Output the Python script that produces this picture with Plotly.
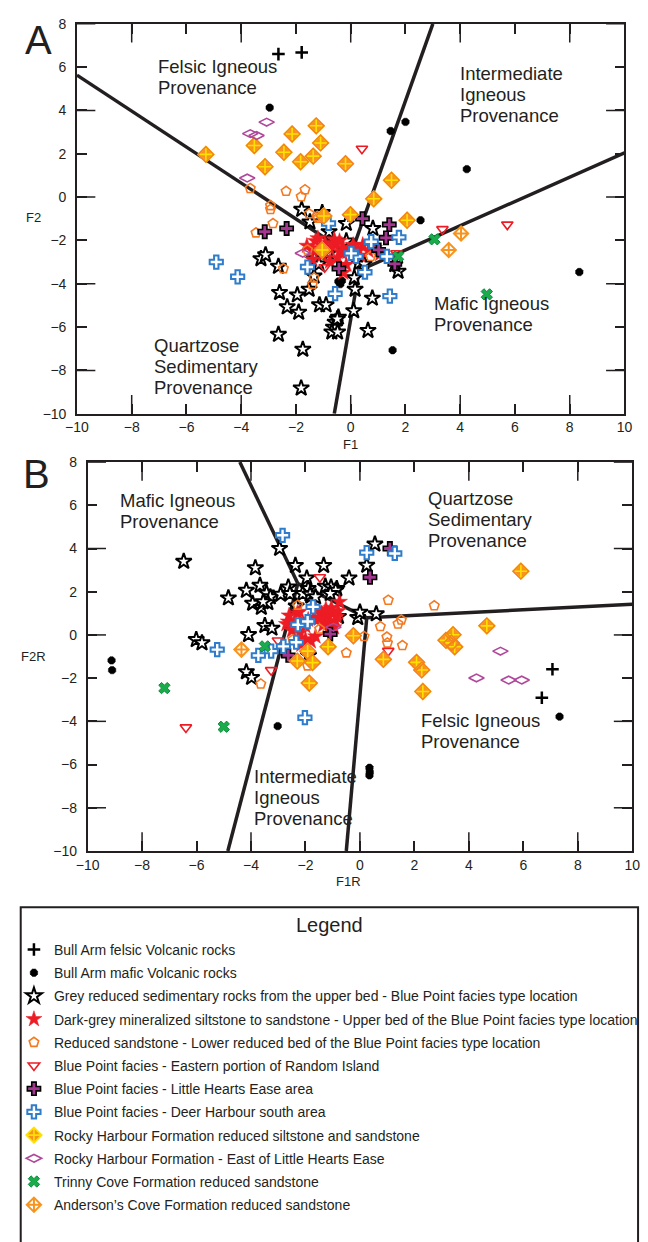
import plotly.graph_objects as go

# ---------------- discriminant-function scores ----------------
# panel A: (F1, F2); panel B: (F1R, F2R)
bull_felsic_A = [(-2.64, 6.60), (-1.79, 6.68)]
bull_felsic_B = [(7.07, -1.59), (6.68, -2.91)]

bull_mafic_A = [(-2.96, 4.13), (1.46, 3.05), (2.00, 3.47), (4.24, 1.29), (2.55, -1.07),
                (8.35, -3.46), (1.53, -7.07), (-0.45, -3.90), (-0.32, -3.86), (-0.38, -4.02)]
bull_mafic_B = [(-9.12, -1.18), (-9.10, -1.63), (-3.02, -4.22), (0.35, -6.15), (0.36, -6.35),
                (0.35, -6.50), (7.33, -3.78)]

grey_upper_A = [(-1.79, -0.57), (-1.49, -1.15), (-1.04, -0.72), (-0.16, -1.22), (-0.79, -1.60),
                (-0.16, -2.03), (-0.81, -2.59), (-3.28, -2.85), (-3.11, -2.67), (-2.64, -3.20),
                (-1.32, -2.85), (-1.16, -3.09), (-1.34, -3.65), (-1.52, -4.26), (-2.60, -4.41),
                (-1.95, -4.52), (-2.32, -5.07), (-1.90, -5.32), (-1.14, -4.98), (-0.90, -4.98),
                (-0.45, -5.55), (-0.57, -5.78), (-0.63, -6.01), (-0.69, -6.23), (-0.48, -6.23),
                (-2.64, -6.34), (-1.75, -7.03), (-1.81, -8.82), (0.11, -5.25), (0.16, -4.26),
                (0.13, -3.73), (0.30, -3.03), (0.81, -1.45), (0.49, -3.09), (0.79, -4.67),
                (0.63, -6.16), (1.73, -3.43), (1.61, -3.12), (-0.49, -5.63)]
grey_upper_B = [(-6.47, 3.40), (-3.84, 3.10), (-3.67, 2.29), (-4.17, 2.06), (-4.83, 1.71),
                (-3.94, 1.46), (-3.62, 1.27), (-3.43, 1.94), (-3.29, 1.76), (-3.38, 1.49),
                (-2.91, 1.88), (-2.63, 2.21), (-2.95, 4.00), (-2.37, 3.21), (-1.95, 2.63),
                (-1.33, 3.21), (-1.90, 2.14), (-1.27, 2.25), (-0.85, 2.14), (-0.40, 2.63),
                (-1.80, 1.79), (-2.34, 1.33), (-3.49, 0.43), (-3.23, 0.31), (-4.09, 0.01),
                (-6.01, -0.22), (-5.80, -0.37), (-2.10, 1.91), (-0.08, 0.80), (-0.79, 0.85),
                (-1.06, 2.21), (-1.89, -0.95), (0.25, 3.22), (0.55, 4.20), (0.00, 1.05),
                (0.60, 0.97), (-4.17, -1.71), (-3.98, -1.97), (-0.89, 2.06), (-1.09, 1.91),
                (-1.83, 1.88), (-1.63, 1.76), (-2.57, 1.91), (-3.55, 1.53)]

dark_grey_A = [(-1.29, -2.03), (-1.12, -2.35), (-0.94, -2.12), (-0.76, -2.39), (-0.58, -2.21),
               (-0.41, -2.03), (-0.27, -2.35), (-0.12, -2.53), (-1.04, -2.67), (-1.40, -2.45),
               (0.09, -2.21), (0.27, -2.48), (0.44, -2.21), (0.65, -2.48), (0.87, -2.35),
               (1.08, -2.62), (-0.48, -2.80), (-0.76, -2.98), (-0.27, -3.49), (-0.16, -3.12),
               (-1.40, -2.89), (-1.20, -1.90), (-0.60, -1.95), (0.35, -2.70), (-0.95, -2.55),
               (-0.35, -2.55), (0.15, -2.40), (-1.60, -2.25)]
dark_grey_B = [(-1.6, 1.1), (-1.4, 1.0), (-1.2, 0.9), (-1.0, 1.0), (-0.85, 0.85), (-1.3, 0.7),
               (-1.1, 0.6), (-0.9, 0.65), (-1.5, 0.75), (-1.25, 1.2), (-1.05, 1.25), (-0.8, 1.1),
               (-1.7, 0.8), (-1.35, 0.45), (-0.95, 0.35), (-1.15, 0.3), (-2.3, 1.0), (-2.4, 0.6),
               (-2.5, 0.2), (-2.2, 0.1), (-2.0, 0.4), (-2.6, 0.9), (-2.0, -0.2), (-1.8, -0.3),
               (-2.7, 0.5), (-1.9, 0.7), (-2.15, -0.45), (-0.75, 1.53), (-1.63, -0.07),
               (-2.22, 1.07), (-2.63, 0.62), (-2.17, -0.22)]

reduced_lower_A = [(-3.67, 0.40), (-2.36, 0.27), (-1.67, 0.34), (-1.81, 0.02), (-2.93, -0.39),
                   (-2.93, -0.57), (-1.52, -0.77), (-1.22, -0.89), (-2.84, -1.22), (-1.19, -0.97),
                   (-3.46, -1.65), (-2.46, -3.30), (-1.58, -2.44), (-1.34, -3.73), (-1.40, -4.03),
                   (0.73, -2.74)]
reduced_lower_B = [(1.04, 1.61), (2.73, 1.35), (0.75, 0.39), (0.99, -0.10), (1.01, -0.37),
                   (1.40, 0.51), (1.52, 0.69), (1.56, -0.49), (-0.50, -0.83), (0.15, -0.07),
                   (-1.92, -1.43), (-3.64, -2.27), (-1.48, 0.27), (-2.46, -0.22), (-2.28, 1.38)]

random_island_A = [(0.41, 2.23), (5.72, -1.27), (3.35, -1.48), (-0.95, -3.24), (1.67, -2.59)]
random_island_B = [(-1.47, 2.67), (-3.26, -1.63), (-6.39, -4.28), (-3.01, -0.26), (1.04, -0.74)]

little_hearts_A = [(-3.14, -1.60), (-2.34, -1.45), (0.43, -0.99), (1.41, -1.27), (1.29, -1.88),
                   (1.02, -2.44), (-0.43, -3.30), (1.61, -3.08)]
little_hearts_B = [(1.10, 4.00), (0.37, 2.67), (-1.09, 0.04), (-2.63, -0.95)]

deer_harbour_A = [(-4.91, -3.00), (-4.13, -3.68), (-1.58, -3.23), (-0.57, -4.46), (-0.81, -1.22),
                  (0.75, -2.06), (1.76, -1.86), (1.43, -4.57), (0.19, -2.74), (0.52, -3.47),
                  (1.32, -2.74), (0.02, -2.60)]
deer_harbour_B = [(-2.84, 4.61), (-1.72, 1.30), (-5.24, -0.68), (-3.73, -0.95), (0.25, 3.81),
                  (1.28, 3.77), (-2.02, -3.83), (-3.26, -0.75), (-2.28, 0.47), (-1.92, 0.62),
                  (-2.34, -0.34), (-2.81, -0.53)]

rocky_harbour_A = [(-5.29, 1.97), (-1.26, 3.29), (-2.14, 2.91), (-3.52, 2.38), (-1.10, 2.50),
                   (-2.44, 2.07), (-1.37, 1.89), (-1.83, 1.63), (-3.13, 1.40), (-0.19, 1.54),
                   (-0.98, -0.87), (-0.01, -0.81), (1.49, 0.78), (0.84, -0.08), (2.06, -1.07),
                   (-1.04, -2.44)]
rocky_harbour_B = [(5.91, 2.95), (4.66, 0.42), (-0.24, -0.04), (3.16, -0.25), (3.42, 0.01),
                   (3.36, -0.37), (3.48, -0.55), (0.86, -1.13), (2.08, -1.27), (2.27, -1.62),
                   (2.31, -2.62), (-1.17, -0.55), (-2.30, -1.21), (-1.86, -2.23), (-1.92, -0.75),
                   (-1.74, -1.28)]

rocky_east_A = [(-3.07, 3.46), (-3.67, 2.93), (-3.44, 2.84), (-3.78, 0.88), (-1.75, -2.59)]
rocky_east_B = [(5.16, -0.75), (4.28, -1.99), (5.46, -2.09), (5.94, -2.09), (-0.97, 0.36)]

trinny_A = [(3.06, -1.95), (4.97, -4.49), (1.73, -2.74)]
trinny_B = [(-7.18, -2.46), (-5.00, -4.25), (-3.49, -0.53)]

andersons_A = [(4.03, -1.68), (3.58, -2.44)]
andersons_B = [(-4.35, -0.68)]

# provenance field boundaries (vertices in score space)
boundary_A = [[(-10, 5.63), (0.0, -2.67)], [(3.0, 8), (0.0, -2.67)], [(0.0, -2.67), (0.31, -3.39)],
              [(0.31, -3.39), (10, 2.04)], [(0.31, -3.39), (-0.6, -10)]]
boundary_B = [[(-4.41, 8), (-2.28, 2.38)], [(-2.28, 2.38), (-4.85, -10)], [(-2.28, 2.38), (0.25, 0.79)],
              [(0.25, 0.79), (10, 1.42)], [(0.25, 0.79), (-0.5, -10)]]

field_labels_A = [("Felsic Igneous<br>Provenance", -7.13, 6.04),
                  ("Intermediate<br>Igneous<br>Provenance", 3.91, 5.72),
                  ("Mafic Igneous<br>Provenance", 2.96, -4.90),
                  ("Quartzose<br>Sedimentary<br>Provenance", -7.27, -6.86)]
field_labels_B = [("Mafic Igneous<br>Provenance", -8.90, 6.22),
                  ("Quartzose<br>Sedimentary<br>Provenance", 2.42, 6.31),
                  ("Felsic Igneous<br>Provenance", 2.17, -3.96),
                  ("Intermediate<br>Igneous<br>Provenance", -3.95, -6.57)]

tick_vals = list(range(-10, 11, 2))
long_ticks = [-8, -4, 0, 4, 8]

INK = "#231f20"
FONT = "Arial, Liberation Sans, sans-serif"
W, H = 648, 1242

series = [
    ("Bull Arm felsic Volcanic rocks", bull_felsic_A, bull_felsic_B,
     dict(symbol="cross-thin-open", size=9, color="black", line=dict(width=2.5, color="black")), None),
    ("Bull Arm mafic Volcanic rocks", bull_mafic_A, bull_mafic_B,
     dict(symbol="octagon", size=8, color="black", line=dict(width=0.5, color="black")), None),
    ("Grey reduced sedimentary rocks from the upper bed - Blue Point facies type location", grey_upper_A, grey_upper_B,
     dict(symbol="star", size=12, color="white", line=dict(width=2, color="black")), None),
    ("Dark-grey mineralized siltstone to sandstone - Upper bed of the Blue Point facies type location", dark_grey_A, dark_grey_B,
     dict(symbol="star", size=12, color="#ed1c24", line=dict(width=0.5, color="#ed1c24")), None),
    ("Reduced sandstone - Lower reduced bed of the Blue Point facies type location", reduced_lower_A, reduced_lower_B,
     dict(symbol="pentagon-open", size=10, color="#f47920", line=dict(width=1.6, color="#f47920")), None),
    ("Blue Point facies - Eastern portion of Random Island", random_island_A, random_island_B,
     dict(symbol="triangle-down-open", size=10, color="#ed1c24", line=dict(width=1.6, color="#ed1c24")), None),
    ("Blue Point facies - Little Hearts Ease area", little_hearts_A, little_hearts_B,
     dict(symbol="cross", size=11, color="#a3378f", line=dict(width=1.6, color="black")), None),
    ("Blue Point facies - Deer Harbour south area", deer_harbour_A, deer_harbour_B,
     dict(symbol="cross", size=11, color="white", line=dict(width=2, color="#2e7ccb")), None),
    ("Rocky Harbour Formation reduced siltstone and sandstone", rocky_harbour_A, rocky_harbour_B,
     dict(symbol="diamond-cross", size=12, color="#f7941d", line=dict(width=1.6, color="#ffe100")),
     dict(symbol="diamond-open", size=12, color="#f58220", line=dict(width=1.6, color="#f58220"))),
    ("Rocky Harbour Formation - East of Little Hearts Ease", rocky_east_A, rocky_east_B,
     dict(symbol="diamond-wide-open", size=11, color="#b0479b", line=dict(width=1.6, color="#b0479b")), None),
    ("Trinny Cove Formation reduced sandstone", trinny_A, trinny_B,
     dict(symbol="x", size=10, color="#1aab4b", line=dict(width=1, color="#0b8a3a")), None),
    ("Anderson\u2019s Cove Formation reduced sandstone", andersons_A, andersons_B,
     dict(symbol="diamond-cross-open", size=11, color="#f7941d", line=dict(width=2, color="#f7941d")), None),
]

fig = go.Figure()

# boundaries first so the symbols sit on top
for segs, xa, ya in [(boundary_A, "x", "y"), (boundary_B, "x2", "y2")]:
    for seg in segs:
        fig.add_trace(go.Scatter(x=[p[0] for p in seg], y=[p[1] for p in seg], mode="lines",
                                 line=dict(color=INK, width=3.5), xaxis=xa, yaxis=ya,
                                 showlegend=False, hoverinfo="skip"))

for name, pts_a, pts_b, mk, rim in series:
    for pts, xa, ya, show in [(pts_a, "x", "y", True), (pts_b, "x2", "y2", False)]:
        xs = [p[0] for p in pts]
        ys = [p[1] for p in pts]
        fig.add_trace(go.Scatter(x=xs, y=ys, mode="markers", name=name, legendgroup=name,
                                 marker=mk, xaxis=xa, yaxis=ya, showlegend=show))
        if rim is not None:
            # orange rim drawn over the yellow cross symbol
            fig.add_trace(go.Scatter(x=xs, y=ys, mode="markers", name=name, legendgroup=name,
                                     marker=rim, xaxis=xa, yaxis=ya, showlegend=False,
                                     hoverinfo="skip"))

axis_common = dict(showline=True, linecolor=INK, linewidth=1.5, mirror="allticks",
                   ticks="inside", ticklen=10, tickwidth=1.5, tickcolor=INK,
                   showgrid=False, zeroline=False,
                   tickfont=dict(family=FONT, size=14, color=INK))

dom_A = dict(x=[67 / W, 632 / W], y=[1 - 411 / H, 1 - 16 / H])
dom_B = dict(x=[78 / W, 640 / W], y=[1 - 854 / H, 1 - 460 / H])

fig.update_layout(
    width=W, height=H, margin=dict(l=0, r=0, t=0, b=0),
    paper_bgcolor="white", plot_bgcolor="white",
    font=dict(family=FONT, color=INK),
    xaxis=dict(domain=dom_A["x"], range=[-10, 10], anchor="y", tickvals=tick_vals, **axis_common),
    yaxis=dict(domain=dom_A["y"], range=[-10, 8], anchor="x", ticklabelstandoff=6,
               tickvals=[v for v in tick_vals if v <= 8], **axis_common),
    xaxis2=dict(domain=dom_B["x"], range=[-10, 10], anchor="y2", tickvals=tick_vals, **axis_common),
    yaxis2=dict(domain=dom_B["y"], range=[-10, 8], anchor="x2", ticklabelstandoff=6,
                tickvals=[v for v in tick_vals if v <= 8], **axis_common),
    legend=dict(x=2 / W, y=1 - 938 / H, xanchor="left", yanchor="top",
                font=dict(family=FONT, size=14, color=INK), tracegroupgap=2,
                bgcolor="rgba(0,0,0,0)", itemwidth=30),
)

# longer ticks at every fourth unit on all four sides
shapes = []
for xa, ya, dom in [("x", "y", dom_A), ("x2", "y2", dom_B)]:
    hx = 19 / ((dom["y"][1] - dom["y"][0]) * H)
    wy = 19 / ((dom["x"][1] - dom["x"][0]) * W)
    for v in long_ticks:
        for y0, y1 in [(0, hx), (1, 1 - hx)]:
            shapes.append(dict(type="line", xref=xa, yref=ya + " domain", x0=v, x1=v, y0=y0, y1=y1,
                               line=dict(color=INK, width=1.5)))
        for x0, x1 in [(0, wy), (1, 1 - wy)]:
            shapes.append(dict(type="line", xref=xa + " domain", yref=ya, x0=x0, x1=x1, y0=v, y1=v,
                               line=dict(color=INK, width=1.5)))
# legend frame
shapes.append(dict(type="rect", xref="paper", yref="paper", x0=9 / W, x1=646 / W,
                   y0=-0.02, y1=1 - 911 / H, line=dict(color=INK, width=2)))
fig.update_layout(shapes=shapes)

ann = []
for labels, xa, ya in [(field_labels_A, "x", "y"), (field_labels_B, "x2", "y2")]:
    for text, lx, ly in labels:
        for i, line in enumerate(text.split("<br>")):
            ann.append(dict(text=line, x=lx, y=ly, xref=xa, yref=ya, xanchor="left", yanchor="middle",
                            yshift=-21 * i, showarrow=False,
                            font=dict(family=FONT, size=18.5, color=INK)))


def px_note(text, px, py, size, anchor="center"):
    return dict(text=text, x=px / W, y=1 - py / H, xref="paper", yref="paper",
                xanchor=anchor, yanchor="middle", showarrow=False,
                font=dict(family=FONT, size=size, color=INK))


ann += [px_note("A", 27, 32, 40), px_note("B", 25, 472, 40),
        px_note("F1", 349, 442, 13), px_note("F2", 22, 212, 13),
        px_note("F1R", 347, 885, 13), px_note("F2R", 22, 657, 13),
        px_note("Legend", 328, 929, 20)]
fig.update_layout(annotations=ann)

fig.write_html("out.html", post_script="document.body.style.margin='0';")
